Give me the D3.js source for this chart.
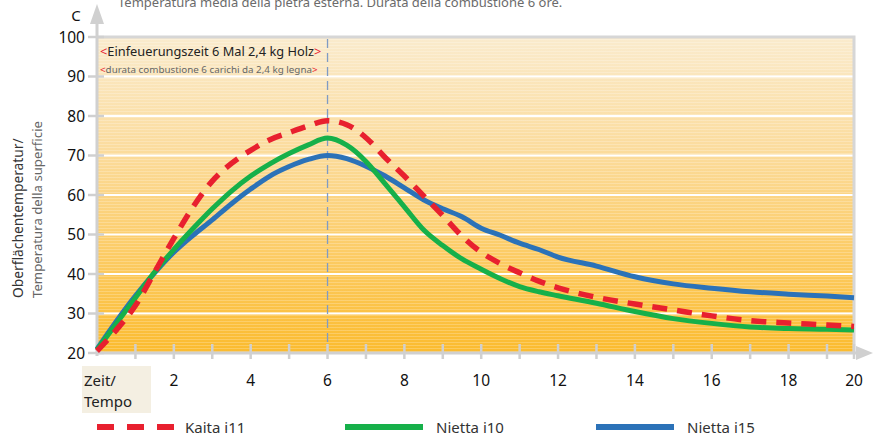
<!DOCTYPE html>
<html><head><meta charset="utf-8">
<script src="https://cdn.jsdelivr.net/npm/d3@7/dist/d3.min.js"></script>
<style>body{margin:0;background:#fff}svg{display:block}text{font-family:"Noto Sans","Open Sans",sans-serif}</style>
</head><body><svg id="c" width="873" height="441"></svg>
<script>
const hours = [0,0.5,1,1.5,2,2.5,3,3.5,4,4.5,5,5.5,6,6.5,7,7.5,8,8.5,9,9.5,10,10.5,11,11.5,12,13,14,15,16,17,18,19,20];
const kaitaI11 = [20.5,25.8,32,40.5,49,57,63.5,68,71.3,74,75.8,77.5,78.8,77.8,74.5,69.5,64.8,59.8,54.8,49.6,45.5,42.6,40.3,38.2,36.5,34.1,32.4,30.9,29.4,28.2,27.6,27.1,26.7];
const niettaI10 = [20.8,27.4,34,40.5,46.2,51.5,56.5,61,64.8,67.9,70.5,72.7,74.4,72.6,68.5,62.8,57,51.2,47.2,43.8,41.2,38.8,36.8,35.5,34.5,32.6,30.5,28.7,27.5,26.6,26.2,26,25.8];
const niettaI15 = [21,28,34.5,40.3,45.5,49.8,53.7,57.8,61.5,64.8,67.2,69,70,69.2,67.3,64.8,61.8,58.8,56.5,54.5,51.6,49.8,47.8,46.2,44.3,42,39.3,37.5,36.4,35.5,34.9,34.4,34];
const seriesNames = ["Kaita i11","Nietta i10","Nietta i15"];
const seriesColors = ["#e8202f","#16b04a","#2b72b8"];
const yTicks = [20,30,40,50,60,70,80,90,100];
const xLabels = [2,4,6,8,10,12,14,16,18,20];
const xMinorTicks = d3.range(1,21);
const titleText = "Temperatura media della pietra esterna. Durata della combustione 6 ore.";
const noteDe = "Einfeuerungszeit 6 Mal 2,4 kg Holz";
const noteIt = "durata combustione 6 carichi da 2,4 kg legna";

const svg = d3.select("#c");
const x = d3.scaleLinear().domain([0,19,20]).range([97,827,854]);
const y = d3.scaleLinear().domain([20,100]).range([353,37]);

const defs = svg.append("defs");
const g = defs.append("linearGradient").attr("id","bg").attr("x1",0).attr("y1",0).attr("x2",0).attr("y2",1);
g.append("stop").attr("offset","0%").attr("stop-color","#faebcd");
g.append("stop").attr("offset","35%").attr("stop-color","#fbdc9e");
g.append("stop").attr("offset","70%").attr("stop-color","#fccb63");
g.append("stop").attr("offset","100%").attr("stop-color","#fbbb2e");
const pat = defs.append("pattern").attr("id","stripes").attr("width",6).attr("height",3).attr("patternUnits","userSpaceOnUse");
pat.append("rect").attr("width",6).attr("height",1).attr("fill","#ffffff").attr("opacity",0.22);

// title (partly above the top edge, as in the source)
svg.append("text").attr("x",118).attr("y",7).attr("font-size",13).attr("fill","#6b6b6b").text(titleText);

// plot background
svg.append("rect").attr("x",x(0)).attr("y",y(100)).attr("width",x(20)-x(0)).attr("height",y(20)-y(100)).attr("fill","url(#bg)");
svg.append("rect").attr("x",x(0)).attr("y",y(100)).attr("width",x(20)-x(0)).attr("height",y(20)-y(100)).attr("fill","url(#stripes)");

// gridlines
svg.append("g").selectAll("line").data(yTicks.filter(d=>d>20 && d<100)).join("line")
  .attr("x1",x(0)).attr("x2",x(20)).attr("y1",d=>y(d)).attr("y2",d=>y(d))
  .attr("stroke","#ffffff").attr("stroke-width",2);

// frame
svg.append("path").attr("d",`M${x(0)},${y(100)}H${x(20)}V${y(20)}`).attr("fill","none").attr("stroke","#d6d6d6").attr("stroke-width",3);

// dashed vertical at 6h
svg.append("line").attr("x1",x(6)).attr("x2",x(6)).attr("y1",y(100)+2).attr("y2",y(20))
  .attr("stroke","#7f9bc4").attr("stroke-width",1.3).attr("stroke-dasharray","9,5");

// annotations
const a1 = svg.append("text").attr("x",100).attr("y",56).attr("font-size",12.8).attr("fill","#222");
a1.append("tspan").attr("fill","#e8202f").text("<");
a1.append("tspan").text(noteDe);
a1.append("tspan").attr("fill","#e8202f").text(">");
const a2 = svg.append("text").attr("x",100).attr("y",73).attr("font-size",9.8).attr("fill","#666");
a2.append("tspan").attr("fill","#e8202f").text("<");
a2.append("tspan").text(noteIt);
a2.append("tspan").attr("fill","#e8202f").text(">");

// axes lines with arrows
svg.append("line").attr("x1",x(0)).attr("x2",x(0)).attr("y1",22).attr("y2",y(20)+3).attr("stroke","#d0d0d0").attr("stroke-width",3);
svg.append("path").attr("d",`M${x(0)},4 L${x(0)-7},24 L${x(0)+7},24 Z`).attr("fill","#d0d0d0");
svg.append("line").attr("x1",x(0)-1).attr("x2",858).attr("y1",y(20)).attr("y2",y(20)).attr("stroke","#d0d0d0").attr("stroke-width",3);
svg.append("path").attr("d",`M873,${y(20)} L856,${y(20)-7} L856,${y(20)+7} Z`).attr("fill","#d0d0d0");

// y ticks
svg.append("g").selectAll("line").data(yTicks).join("line")
  .attr("x1",88).attr("x2",104).attr("y1",d=>y(d)).attr("y2",d=>y(d)).attr("stroke","#d0d0d0").attr("stroke-width",2.5);
svg.append("g").selectAll("text").data(yTicks).join("text")
  .attr("x",85).attr("y",d=>y(d)+5.5).attr("text-anchor","end").attr("font-size",15.5).attr("fill","#111").text(d=>d);
svg.append("text").attr("x",76).attr("y",21).attr("text-anchor","middle").attr("font-size",15).attr("fill","#111").text("C");

// x ticks
svg.append("g").selectAll("line").data(xMinorTicks).join("line")
  .attr("x1",d=>x(d)).attr("x2",d=>x(d)).attr("y1",y(20)-9).attr("y2",y(20)+6).attr("stroke","#d0d0d0").attr("stroke-width",2.5);
svg.append("g").selectAll("text").data(xLabels).join("text")
  .attr("x",d=>x(d)).attr("y",386).attr("text-anchor","middle").attr("font-size",15.5).attr("fill","#111").text(d=>d);

// Zeit/Tempo box
svg.append("rect").attr("x",82).attr("y",366).attr("width",69).attr("height",47).attr("fill","#f4efe2");
svg.append("text").attr("x",84).attr("y",386).attr("font-size",15).attr("fill","#222").text("Zeit/");
svg.append("text").attr("x",84).attr("y",407).attr("font-size",15).attr("fill","#222").text("Tempo");

// y axis title
svg.append("text").attr("transform","translate(23,298) rotate(-90)").attr("font-size",13.8).attr("fill","#333").text("Oberflächentemperatur/");
svg.append("text").attr("transform","translate(42,298) rotate(-90)").attr("font-size",13.2).attr("fill","#666").text("Temperatura della superficie");

// lines
const line = d3.line().x((d,i)=>x(hours[i])).y(d=>y(d)).curve(d3.curveMonotoneX);
const data = [kaitaI11, niettaI10, niettaI15];
const order = [2,1,0];
order.forEach(k=>{
  svg.append("path").datum(data[k]).attr("d",line).attr("fill","none")
    .attr("stroke",seriesColors[k]).attr("stroke-width",k===0?5.5:5)
    .attr("stroke-linejoin","round")
    .attr("stroke-dasharray",k===0?"15,10":null);
});

// legend
const legX = [97,345,596];
seriesNames.forEach((n,k)=>{
  svg.append("line").attr("x1",legX[k]).attr("x2",legX[k]+78).attr("y1",427).attr("y2",427)
    .attr("stroke",seriesColors[k]).attr("stroke-width",6).attr("stroke-dasharray",k===0?"17,13":null);
  svg.append("text").attr("x",legX[k]+(k===0?88:91)).attr("y",433).attr("font-size",15).attr("fill","#333").text(n);
});
</script></body></html>
